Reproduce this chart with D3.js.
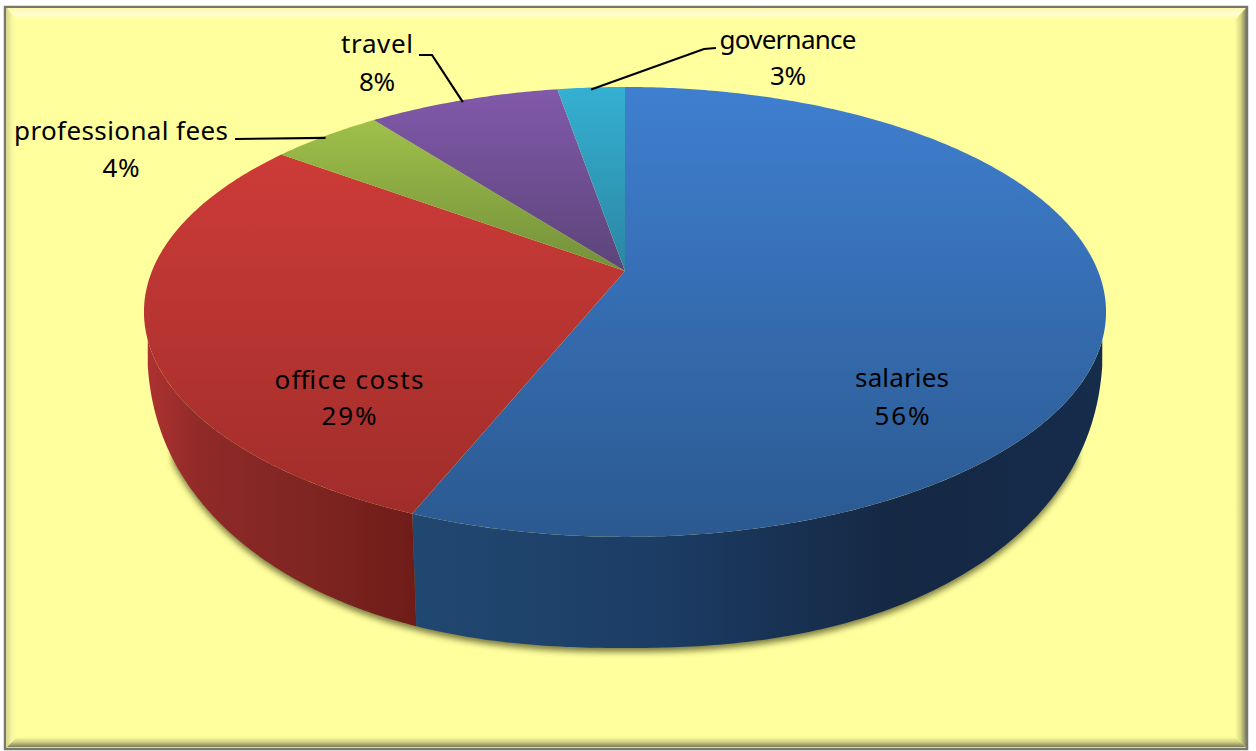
<!DOCTYPE html>
<html>
<meta charset="utf-8">
<style>
html, body { margin: 0; padding: 0; background: #fff; }
svg { display: block; }
text { font-family: "Comic Sans MS", "Noto Sans", sans-serif; font-size: 26px; fill: #000; text-anchor: middle; }
</style>
<body>
<script src="https://d3js.org/d3.v7.min.js"></script>
<script>
// values, printed labels are the rounded ones from the chart
var categories = ["salaries", "office costs", "professional fees", "travel", "governance"];
var values = [56.1, 29.0, 4.5, 7.7, 2.7];
var percentLabels = ["56%", "29%", "4%", "8%", "3%"];

// colours per slice: top face gradient and side wall gradient
var topColors = [["#3f7fd0", "#2b5990"], ["#cd3b38", "#a02d2a"], ["#9fc04a", "#73903a"], ["#8159aa", "#5c4479"], ["#35b0d2", "#2a86a2"]];
var sideColors = [
  [[0, "#214871"], [0.35, "#1c3d65"], [0.7, "#152844"], [1, "#152c4b"]],
  [[0, "#ad3230"], [0.2, "#8f2a28"], [0.6, "#7f2522"], [1, "#6f1c18"]],
  [[0, "#6a8530"]], [[0, "#4f3a6b"]], [[0, "#25768c"]]
];

// label layout, in picture coordinates
var labelPos = [[902, 387], [349, 389], [121, 140], [377, 53], [788, 49]];
var lineGap = [38, 36, 37, 38, 36];
var nameWidth = [94, 149, 214, 72, 137];
var percentWidth = [55, 55, 37, 36, 36];
// where a leader line leaves the label (none for the two labels on the slices)
var leaderStart = [null, null, [[235, 139]], [[419, 55], [432, 55]], [[716, 48], [704, 49]]];

var width = 1256, height = 751;

// the pie is seen in perspective, so the slice centre sits above the ellipse centre
var topDisc = {cx: 625, k: 473, m: 217.5, y0: 271, p: 0.182};
// base outline: a rounded lower curve hanging from the rim
var base = {rx: 478, ry: 308, cy: 340, n: 2.3};

function project(disc, a) {
  var u = Math.sin(a), v = -Math.cos(a), w = 1 - disc.p * v;
  return [disc.cx + disc.k * u / w, disc.y0 + disc.m * v / w];
}

function arcPoints(a0, a1) {
  var n = Math.max(2, Math.ceil((a1 - a0) / 0.01));
  return d3.range(n + 1).map(function(i) { return project(topDisc, a0 + (a1 - a0) * i / n); });
}

// point on the base below a rim point
function basePoint(p) {
  var dx = p[0] - topDisc.cx;
  var s = Math.min(Math.abs(dx) / base.rx, 1);
  var y = base.cy + base.ry * Math.pow(1 - Math.pow(s, base.n), 1 / base.n);
  return [topDisc.cx + dx * (1 - 0.02 * (1 - Math.pow(s, 4))), y];
}

// the wall starts where the rim comes down to the top of the base curve
var rimT = (base.cy - topDisc.y0) / topDisc.m;
var frontFrom = Math.acos(-rimT / (1 + topDisc.p * rimT)), frontTo = 2 * Math.PI - frontFrom;

function wallPoints(a0, a1) {
  var t = arcPoints(Math.max(a0, frontFrom), Math.min(a1, frontTo));
  return t.concat(t.map(basePoint).reverse());
}

var line = d3.line();

var svg = d3.select("body").append("svg")
    .attr("width", width)
    .attr("height", height);

var defs = svg.append("defs");

function gradient(id, horizontal, stops) {
  var g = defs.append("linearGradient").attr("id", id)
      .attr("x1", 0).attr("y1", 0)
      .attr("x2", horizontal ? 1 : 0).attr("y2", horizontal ? 0 : 1);
  stops.forEach(function(s) {
    g.append("stop").attr("offset", s[0]).attr("stop-color", s[1]);
  });
}

categories.forEach(function(d, i) {
  gradient("top" + i, false, [[0, topColors[i][0]], [1, topColors[i][1]]]);
  gradient("side" + i, true, sideColors[i]);
});

// bevelled frame
gradient("bevelTop", false, [[0, "#fdf9a8"], [0.45, "#fffdd2"], [1, "#ffff9e"]]);
gradient("bevelLeft", true, [[0, "#d9d98c"], [0.5, "#f8f8a0"], [1, "#ffff9e"]]);
gradient("bevelRight", true, [[0, "#ffff9e"], [0.5, "#d8d886"], [1, "#82825a"]]);
gradient("bevelBottom", false, [[0, "#ffff9e"], [0.5, "#cfcf82"], [1, "#7c7c55"]]);

defs.append("filter").attr("id", "blur")
    .attr("x", "-5%").attr("y", "-5%").attr("width", "110%").attr("height", "110%")
  .append("feGaussianBlur").attr("stdDeviation", 3);

var fx0 = 7, fy0 = 8, fx1 = 1246, fy1 = 747;
var ix0 = 17, iy0 = 20, ix1 = 1235, iy1 = 737;

svg.append("rect")
    .attr("x", 5).attr("y", 7)
    .attr("width", 1242).attr("height", 742)
    .attr("fill", "#ffff9e")
    .attr("stroke", "#77776c")
    .attr("stroke-width", 2.5);

var bevels = [
  ["bevelTop", [[fx0, fy0], [fx1, fy0], [ix1, iy0], [ix0, iy0]]],
  ["bevelLeft", [[fx0, fy0], [ix0, iy0], [ix0, iy1], [fx0, fy1]]],
  ["bevelRight", [[fx1, fy0], [fx1, fy1], [ix1, iy1], [ix1, iy0]]],
  ["bevelBottom", [[fx0, fy1], [ix0, iy1], [ix1, iy1], [fx1, fy1]]]
];
svg.append("g").selectAll("path")
  .data(bevels)
  .enter().append("path")
    .attr("d", function(d) { return line(d[1]) + "Z"; })
    .attr("fill", function(d) { return "url(#" + d[0] + ")"; });

// slice angles
var pie = d3.pie().sort(null).value(function(d) { return d; });
var arcs = pie(values);

// soft shadow under the base, kept away from the rim at both ends
svg.append("path")
    .attr("d", line(wallPoints(frontFrom + 0.2, frontTo - 0.2)) + "Z")
    .attr("transform", "translate(0,4)")
    .attr("fill", "#4f4f20")
    .attr("opacity", 0.75)
    .attr("filter", "url(#blur)");

// side walls
svg.append("g").selectAll("path")
  .data(arcs.filter(function(d) { return d.endAngle > frontFrom && d.startAngle < frontTo; }))
  .enter().append("path")
    .attr("d", function(d) { return line(wallPoints(d.startAngle, d.endAngle)) + "Z"; })
    .attr("fill", function(d) { return "url(#side" + d.index + ")"; });

// top faces
svg.append("g").selectAll("path")
  .data(arcs)
  .enter().append("path")
    .attr("d", function(d) {
      return line([[topDisc.cx, topDisc.y0]].concat(arcPoints(d.startAngle, d.endAngle))) + "Z";
    })
    .attr("fill", function(d, i) { return "url(#top" + i + ")"; });

// leader lines run to the rim at the middle of each slice
svg.append("g").selectAll("path")
  .data(arcs.filter(function(d, i) { return leaderStart[i]; }))
  .enter().append("path")
    .attr("d", function(d) {
      var mid = (d.startAngle + d.endAngle) / 2;
      var end = project(topDisc, mid);
      return line(leaderStart[d.index].concat([[end[0], end[1] + 2]]));
    })
    .attr("fill", "none")
    .attr("stroke", "#000")
    .attr("stroke-width", 2.2);

var labels = svg.append("g").selectAll("text")
  .data(categories)
  .enter().append("text")
    .attr("transform", function(d, i) { return "translate(" + labelPos[i] + ")"; });

labels.append("tspan").attr("x", 0).attr("y", 0)
    .attr("textLength", function(d, i) { return nameWidth[i]; })
    .text(function(d) { return d; });
labels.append("tspan").attr("x", 0)
    .attr("y", function(d, i) { return lineGap[i]; })
    .attr("textLength", function(d, i) { return percentWidth[i]; })
    .text(function(d, i) { return percentLabels[i]; });
</script>
</body>
</html>
